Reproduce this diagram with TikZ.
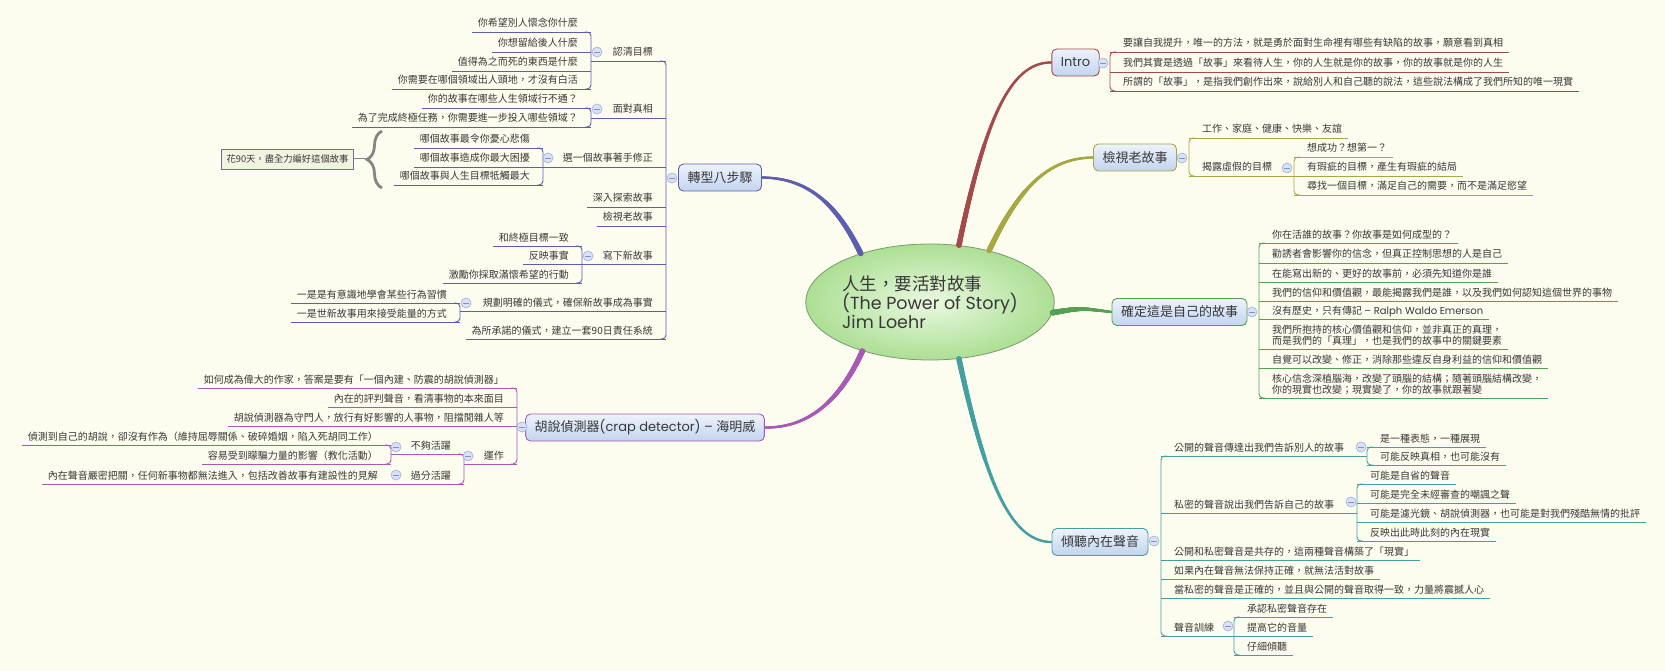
\documentclass[tikz,border=0pt]{standalone}
\usepackage{fontspec}
\setmainfont{Noto Sans CJK TC}
\newfontfamily\lat{Poppins}
\usetikzlibrary{calc,decorations.pathreplacing,decorations.markings,shapes.geometric}
\definecolor{bgc}{HTML}{FDFDEF}
\definecolor{txt}{HTML}{383838}
\definecolor{tfa}{HTML}{EEF3FC}
\definecolor{tfb}{HTML}{C2D4EF}
\definecolor{togf}{HTML}{D9E2F5}
\definecolor{togb}{HTML}{9DB0DD}
\definecolor{togm}{HTML}{7F93C8}
\definecolor{rootb}{HTML}{7A9A70}
\definecolor{rootin}{HTML}{EAF9E0}
\definecolor{rootout}{HTML}{ACDF94}
\definecolor{boxb}{HTML}{6E6E9E}
\definecolor{boxf}{HTML}{F3F3E2}
\definecolor{brc}{HTML}{858585}
\definecolor{tzc}{HTML}{5E5EAE}
\definecolor{hsc}{HTML}{A958B3}
\definecolor{irc}{HTML}{A44A4A}
\definecolor{joc}{HTML}{A7A744}
\definecolor{qdc}{HTML}{55A055}
\definecolor{qtc}{HTML}{44A0A0}
\colorlet{bc}{tzc}
\newcommand\twoline[2]{\vbox{\baselineskip=11pt\lineskiplimit=-20pt\hbox{#1}\hbox{#2}}}
% right-side leaf: name, bracket x, underline y, text
\newcommand\LR[4]{\node[lf,anchor=base west] (#1) at ({#2+13},{#3-5}) {#4};
  \draw[ln] ($(#1.base west)+(-13,5)$) -- ($(#1.base east)+(6,5)$);}
\newcommand\LL[4]{\node[lf,anchor=base east] (#1) at ({#2-13},{#3-5}) {#4};
  \draw[ln] ($(#1.base east)+(13,5)$) -- ($(#1.base west)+(-6,5)$);}
\newcommand\PR[5]{\node[lf,anchor=base west] (#1) at ({#2+13},{#3-5}) {#4};
  \draw[ln] ($(#1.base west)+(-13,5)$) -- (#5,#3);}
\newcommand\PL[5]{\node[lf,anchor=base east] (#1) at ({#2-13},{#3-5}) {#4};
  \draw[ln] ($(#1.base east)+(13,5)$) -- (#5,#3);}
\newcommand\BR[2]{\draw[ln,rounded corners=4pt] ($(#1.base west)+(-7,5)$) -- ++(-6,0) |- ($(#2.base west)+(-7,5)$);}
\newcommand\BL[2]{\draw[ln,rounded corners=4pt] ($(#1.base east)+(7,5)$) -- ++(6,0) |- ($(#2.base east)+(7,5)$);}
\tikzset{
 lf/.style={inner sep=0pt, text=txt, font=\fontsize{10}{11}\selectfont},
 ln/.style={draw=bc, line width=0.9pt},
 topic/.style={rounded corners=5pt, draw=#1, line width=0.9pt, top color=tfa, bottom color=tfb, minimum height=27pt, inner xsep=9pt, inner ysep=0pt, text=txt, font=\fontsize{13}{15}\selectfont},
 tog/.style={circle, draw=togb, fill=togf, inner sep=0pt, minimum size=10pt, line width=0.6pt, path picture={\draw[togm,line width=0.8pt] ([xshift=-2.6pt]path picture bounding box.center) -- ([xshift=2.6pt]path picture bounding box.center);}},
 taper/.style={postaction={decorate, decoration={markings, mark=between positions 0 and 1 step 0.004 with {\pgfmathsetmacro\tpr{2.8-1.7*\pgfkeysvalueof{/pgf/decoration/mark info/sequence number}/251}\fill[#1] (0,0) circle (\tpr pt);}}}},
 mainc/.style={draw=#1, line width=2.2pt, taper=#1},
}
\begin{document}
\begin{tikzpicture}[x=1pt,y=-1pt]
\useasboundingbox (0,0) rectangle (1665,671);
\fill[bgc] (0,0) rectangle (1665,671);
% root
\node[ellipse, draw=rootb, line width=0.8pt, inner color=rootin, outer color=rootout, minimum width=244pt, minimum height=116pt, inner sep=0pt, align=left, text=txt, font=\fontsize{17.5}{17.5}\selectfont] (r) at (930,302) {人生，要活對故事\\{\lat (The Power of Story)}\\{\lat Jim Loehr}};
% main topics
\node[topic=tzc] (t1) at (720,177.5) {轉型八步驟};
\node[topic=hsc] (h1) at (645,427.5) {胡說偵測器{\lat (crap detector) – }海明威};
\node[topic=irc, font=\lat\fontsize{13}{15}\selectfont] (i0) at (1075.5,62.5) {Intro};
\node[topic=joc] (j0) at (1135,157.5) {檢視老故事};
\node[topic=qdc] (q0) at (1179.5,312) {確定這是自己的故事};
\node[topic=qtc] (p0) at (1100,542) {傾聽內在聲音};
% main connectors
\draw[mainc=tzc] (r.145) .. controls (835,200) and (805,178) .. (t1.east);
\draw[mainc=hsc] (r.216) .. controls (838,405) and (805,428) .. (h1.east);
\draw[mainc=irc] (r.63) .. controls (985,120) and (1010,62) .. (i0.west);
\draw[mainc=joc] (r.41) .. controls (1020,185) and (1050,158) .. (j0.west);
\draw[mainc=qdc] (r.355) .. controls (1080,308) .. (q0.west);
\draw[mainc=qtc] (r.297) .. controls (985,480) and (1010,542) .. (p0.west);
% ---- 轉型八步驟
\colorlet{bc}{tzc}
\PL{c1}{666}{61}{認清目標}{591}
\LL{c1a}{591}{32}{你希望別人懷念你什麼}
\LL{c1b}{591}{52}{你想留給後人什麼}
\LL{c1c}{591}{71}{值得為之而死的東西是什麼}
\LL{c1d}{591}{89}{你需要在哪個領域出人頭地，才沒有白活}
\BL{c1a}{c1d}
\PL{c2}{666}{118}{面對真相}{591}
\LL{c2a}{591}{108}{你的故事在哪些人生領域行不通？}
\LL{c2b}{591}{127}{為了完成終極任務，你需要進一步投入哪些領域？}
\BL{c2a}{c2b}
\PL{c3}{666}{167}{選一個故事著手修正}{543}
\LL{c3a}{543}{148}{哪個故事最令你憂心悲傷}
\LL{c3b}{543}{167}{哪個故事造成你最大困擾}
\LL{c3c}{543}{185}{哪個故事與人生目標牴觸最大}
\BL{c3a}{c3c}
\LL{c4}{666}{207}{深入探索故事}
\LL{c5}{666}{226}{檢視老故事}
\PL{c6}{666}{264}{寫下新故事}{582}
\LL{c6a}{582}{246}{和終極目標一致}
\LL{c6b}{582}{264}{反映事實}
\LL{c6c}{582}{283}{激勵你採取滿懷希望的行動}
\BL{c6a}{c6c}
\PL{c7}{666}{311}{規劃明確的儀式，確保新故事成為事實}{460}
\LL{c7a}{460}{303}{一是是有意識地學會某些行為習慣}
\LL{c7b}{460}{322}{一是世新故事用來接受能量的方式}
\BL{c7a}{c7b}
\LL{c8}{666}{339}{為所承諾的儀式，建立一套90日責任系統}
\BL{c1}{c8}
\node[draw=boxb, fill=boxf, line width=0.8pt, inner xsep=5pt, inner ysep=0pt, minimum height=20pt, font=\fontsize{9.3}{10}\selectfont, text=txt] (nb) at (287.5,159) {花90天，盡全力編好這個故事};
\coordinate (bt) at (366,159);
\draw[decorate, decoration={brace, amplitude=15pt}, draw=brc, line width=2.8pt] (382,188) -- (382,131);
\draw[draw=brc, line width=1pt] (nb.east) -- (bt);
% ---- 胡說偵測器
\colorlet{bc}{hsc}
\LL{d1}{517}{388}{如何成為偉大的作家，答案是要有「一個內建、防震的胡說偵測器」}
\LL{d2}{517}{407}{內在的評判聲音，看清事物的本來面目}
\LL{d3}{517}{426}{胡說偵測器為守門人，放行有好影響的人事物，阻擋閒雜人等}
\PL{d4}{517}{464}{運作}{464}
\PL{e1}{464}{454}{不夠活躍}{391}
\LL{f1}{391}{445}{偵測到自己的胡說，卻沒有作為（維持屈辱關係、破碎婚姻，陷入死胡同工作）}
\LL{f2}{391}{464}{容易受到矇騙力量的影響（教化活動）}
\BL{f1}{f2}
\PL{e2}{464}{484}{過分活躍}{391}
\LL{f3}{391}{484}{內在聲音嚴密把關，任何新事物都無法進入，包括改善故事有建設性的見解}
\BL{e1}{e2}
\BL{d1}{d4}
% ---- Intro
\colorlet{bc}{irc}
\LR{i1}{1110}{52}{要讓自我提升，唯一的方法，就是勇於面對生命裡有哪些有缺陷的故事，願意看到真相}
\LR{i2}{1110}{72}{我們其實是透過「故事」來看待人生，你的人生就是你的故事，你的故事就是你的人生}
\LR{i3}{1110}{91}{所謂的「故事」，是指我們創作出來，說給別人和自己聽的說法，這些說法構成了我們所知的唯一現實}
\BR{i1}{i3}
% ---- 檢視老故事
\colorlet{bc}{joc}
\LR{j1}{1189}{138}{工作、家庭、健康、快樂、友誼}
\PR{j2}{1189}{176}{揭露虛假的目標}{1294}
\LR{j2a}{1294}{157}{想成功？想第一？}
\LR{j2b}{1294}{176}{有瑕疵的目標，產生有瑕疵的結局}
\LR{j2c}{1294}{195}{尋找一個目標，滿足自己的需要，而不是滿足慾望}
\BR{j2a}{j2c}
\BR{j1}{j2}
% ---- 確定這是自己的故事
\colorlet{bc}{qdc}
\LR{q1}{1259}{243}{你在活誰的故事？你故事是如何成型的？}
\LR{q2}{1259}{263}{勸誘者會影響你的信念，但真正控制思想的人是自己}
\LR{q3}{1259}{282}{在能寫出新的、更好的故事前，必須先知道你是誰}
\LR{q4}{1259}{301}{我們的信仰和價值觀，最能揭露我們是誰，以及我們如何認知這個世界的事物}
\LR{q5}{1259}{319}{沒有歷史，只有傳記 {\lat – Ralph Waldo Emerson}}
\LR{q6}{1259}{349}{\twoline{我們所抱持的核心價值觀和信仰，並非真正的真理，}{而是我們的「真理」，也是我們的故事中的關鍵要素}}
\LR{q7}{1259}{368}{自覺可以改變、修正，消除那些違反自身利益的信仰和價值觀}
\LR{q8}{1259}{398}{\twoline{核心信念深植腦海，改變了頭腦的結構；隨著頭腦結構改變，}{你的現實也改變；現實變了，你的故事就跟著變}}
\BR{q1}{q8}
% ---- 傾聽內在聲音
\colorlet{bc}{qtc}
\PR{p1}{1161}{456}{公開的聲音傳達出我們告訴別人的故事}{1367}
\LR{p1a}{1367}{447}{是一種表態，一種展現}
\LR{p1b}{1367}{465}{可能反映真相，也可能沒有}
\BR{p1a}{p1b}
\PR{p2}{1161}{513}{私密的聲音說出我們告訴自己的故事}{1357}
\LR{p2a}{1357}{484}{可能是自省的聲音}
\LR{p2b}{1357}{503}{可能是完全未經審查的嘲諷之聲}
\LR{p2c}{1357}{522}{可能是濾光鏡、胡說偵測器，也可能是對我們殘酷無情的批評}
\LR{p2d}{1357}{541}{反映出此時此刻的內在現實}
\BR{p2a}{p2d}
\LR{p3}{1161}{560}{公開和私密聲音是共存的，這兩種聲音構築了「現實」}
\LR{p4}{1161}{579}{如果內在聲音無法保持正確，就無法活對故事}
\LR{p5}{1161}{598}{當私密的聲音是正確的，並且與公開的聲音取得一致，力量將震撼人心}
\PR{p6}{1161}{636}{聲音訓練}{1234}
\LR{p6a}{1234}{617}{承認私密聲音存在}
\LR{p6b}{1234}{636}{提高它的音量}
\LR{p6c}{1234}{655}{仔細傾聽}
\BR{p6a}{p6c}
\BR{p1}{p6}
% ---- collapse toggles
\node[tog] (t1t) at (672,178) {};
\node[tog] (c1t) at (597,52) {};
\node[tog] (c2t) at (597,109) {};
\node[tog] (c3t) at (548,158) {};
\node[tog] (c6t) at (588,256) {};
\node[tog] (c7t) at (466,303) {};
\node[tog] (h1t) at (522,427) {};
\node[tog] (d4t) at (468,456) {};
\node[tog] (e1t) at (396,447) {};
\node[tog] (e2t) at (396,475) {};
\node[tog] (i0t) at (1103,63) {};
\node[tog] (j0t) at (1182,158) {};
\node[tog] (j2t) at (1287,168) {};
\node[tog] (q0t) at (1252,312) {};
\node[tog] (p0t) at (1154,541) {};
\node[tog] (p1t) at (1361,447) {};
\node[tog] (p2t) at (1351,502) {};
\node[tog] (p6t) at (1228,626) {};
\end{tikzpicture}
\end{document}
